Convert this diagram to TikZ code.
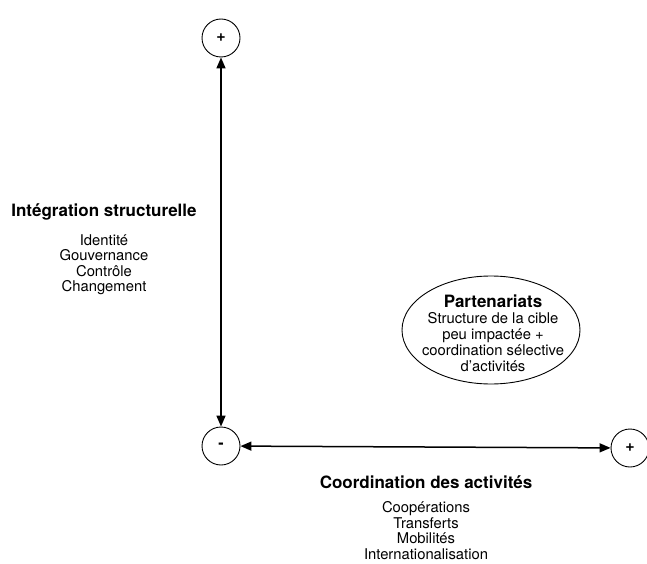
\documentclass[tikz,border=0pt]{standalone}
\usepackage{fontspec}
\setmainfont{TeX Gyre Heros}
\usetikzlibrary{arrows.meta,shapes.geometric}
\begin{document}
\begin{tikzpicture}[x=1pt,y=-1pt,
  pole/.style={draw,circle,line width=0.9pt,minimum size=38pt,inner sep=0pt,font=\fontsize{16}{18}\selectfont\bfseries},
  axis/.style={line width=1.5pt,{Triangle[length=11pt,width=9pt]}-{Triangle[length=11pt,width=9pt]}},
  title/.style={font=\fontsize{17}{19}\selectfont\bfseries},
  items/.style={align=center,font=\fontsize{14.8}{15.5}\selectfont}]
\useasboundingbox (0,0) rectangle (647,564);
\node[pole] (top) at (221,38) {+};
\node[pole] (orig) at (221,446) {-};
\node[pole] (right) at (630,448) {+};
\draw[axis] (top) -- (orig);
\draw[axis] (orig) -- (right);
\node[title] (ist) at (104,212) {Intégration structurelle};
\node[items,anchor=north] (isl) at (104,231) {Identité\\Gouvernance\\Contrôle\\Changement};
\node[title] (cda) at (426,482) {Coordination des activités};
\node[items,anchor=north] (cdl) at (426,498) {Coopérations\\Transferts\\Mobilités\\Internationalisation};
\node[draw,ellipse,line width=0.9pt,minimum width=178pt,minimum height=108pt,inner sep=0pt] (part) at (491,330) {};
\node[align=center,font=\fontsize{14.8}{16}\selectfont] (ptxt) at (493,333) {{\fontsize{17}{17}\selectfont\bfseries Partenariats}\\Structure de la cible\\peu impactée +\\coordination sélective\\d’activités};
\end{tikzpicture}
\end{document}
